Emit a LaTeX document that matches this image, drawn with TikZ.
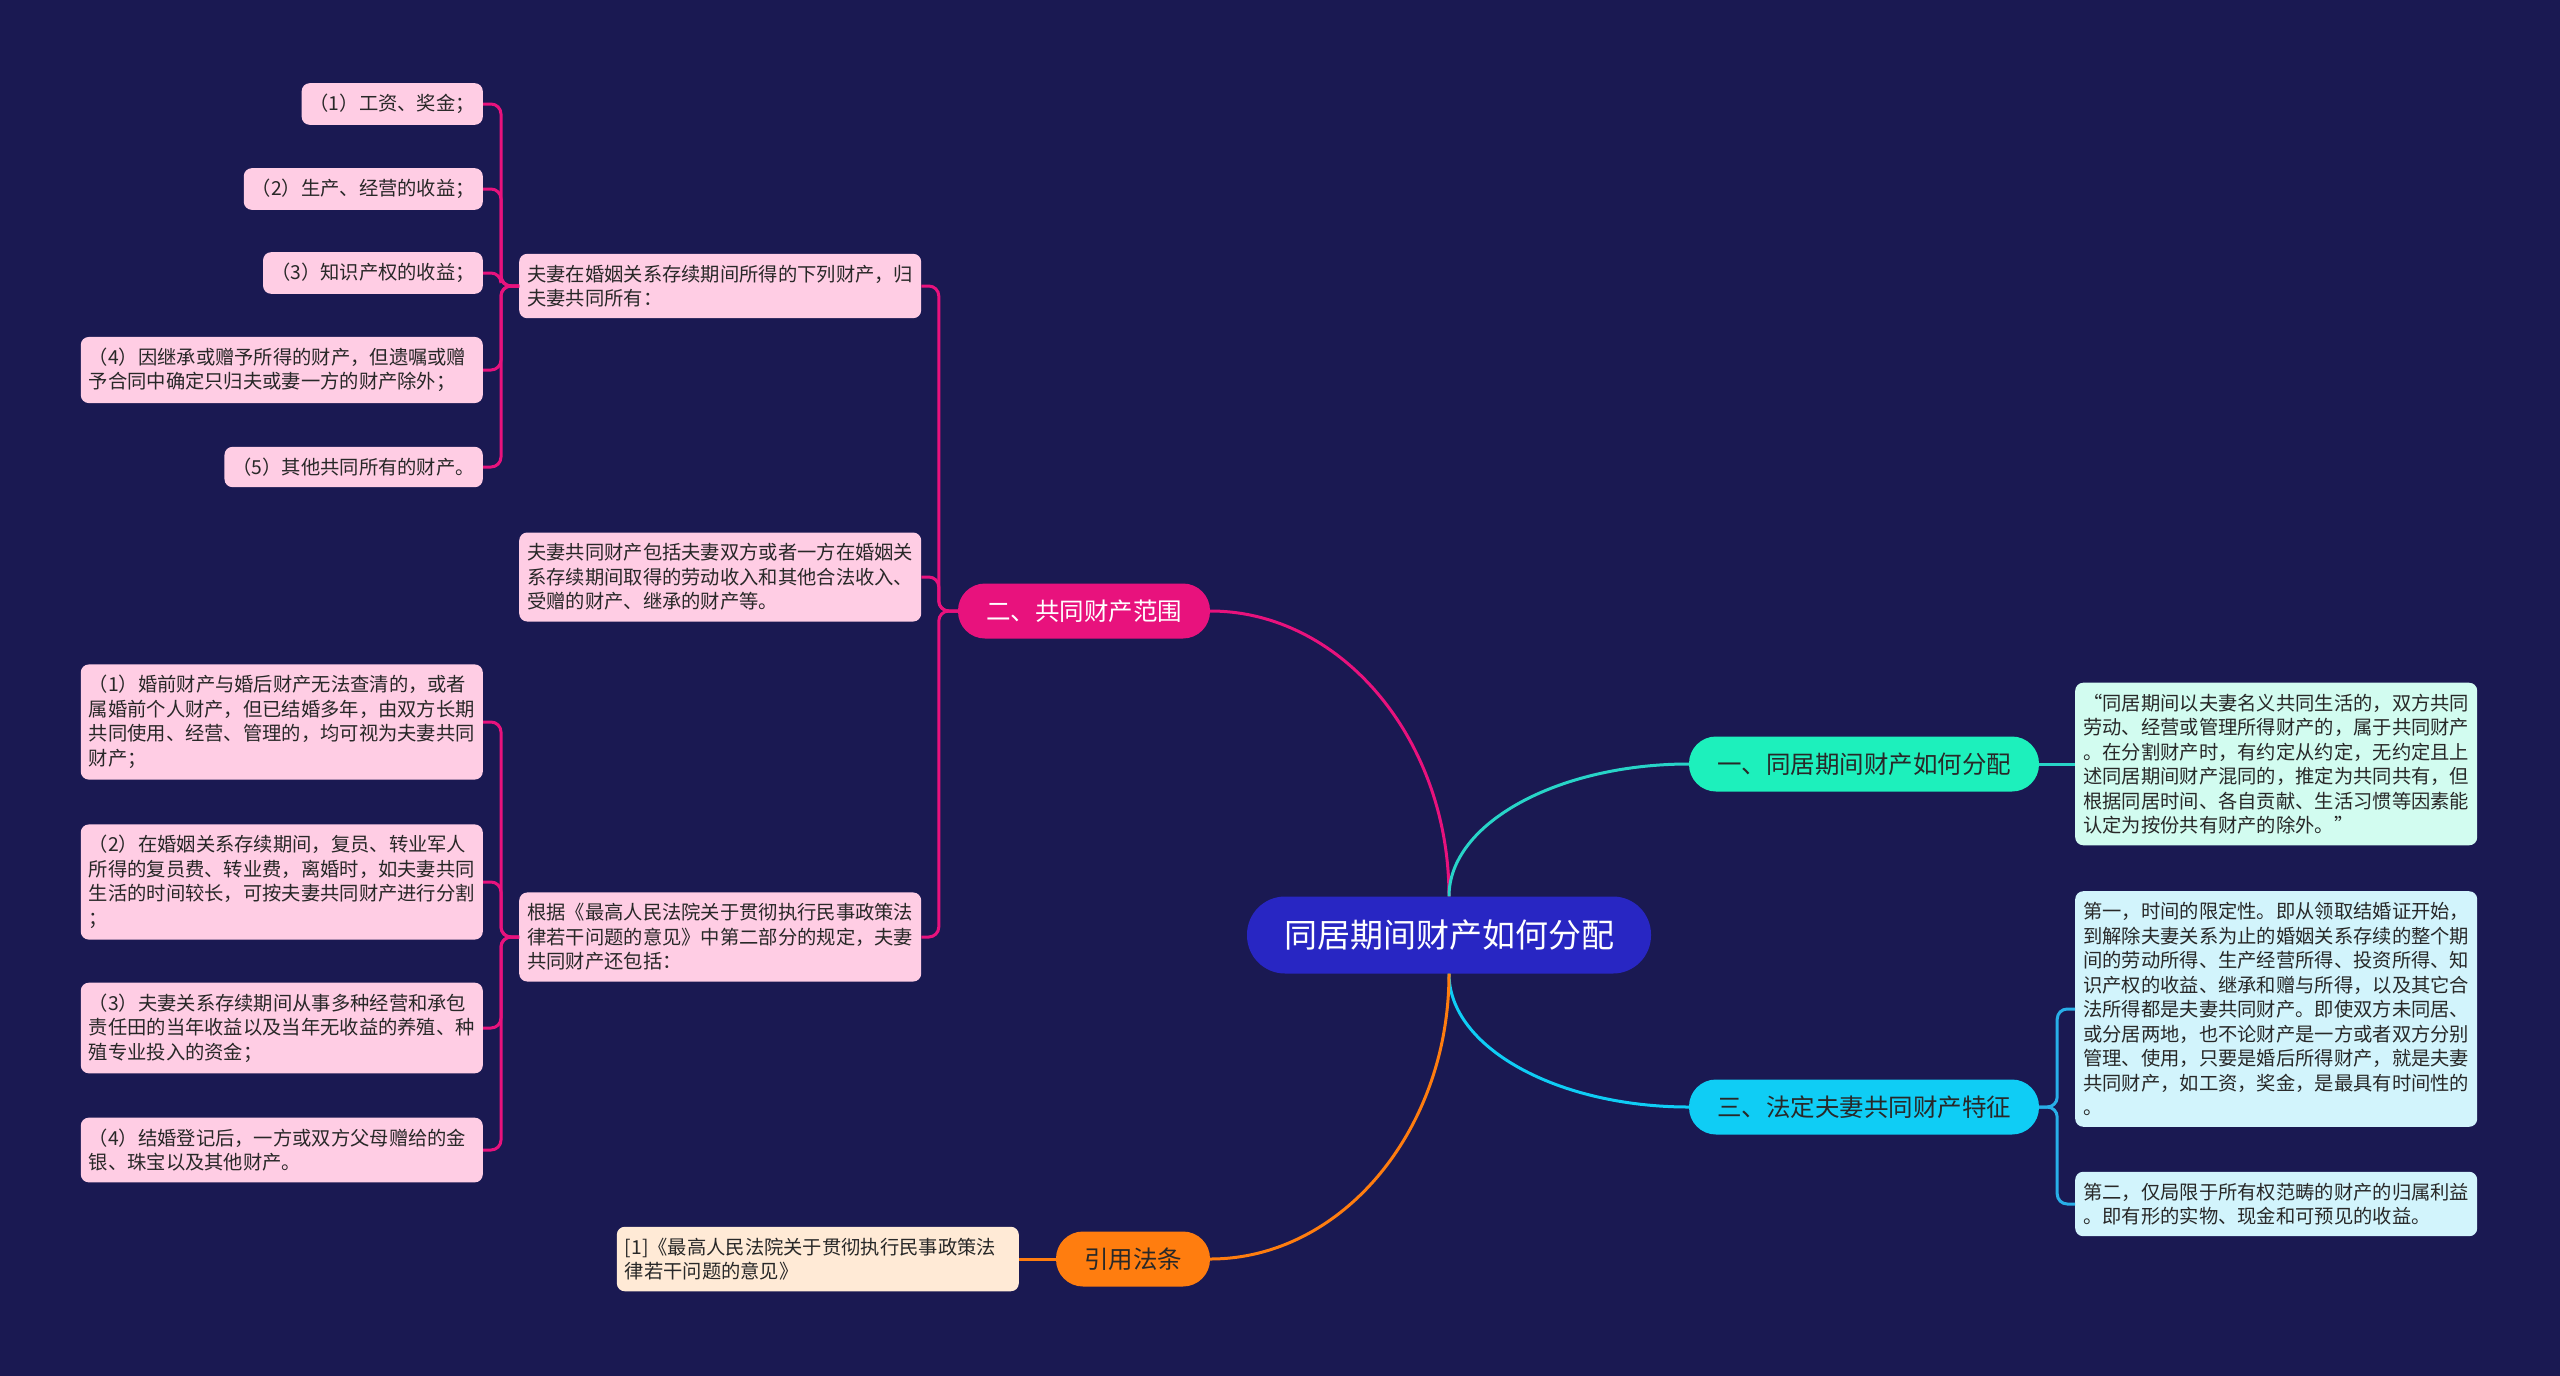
\documentclass[tikz,border=0pt]{standalone}
\usepackage{fontspec}
\setmainfont{Noto Sans CJK SC}
\definecolor{bg}{RGB}{26,25,82}
\definecolor{rootc}{RGB}{40,38,195}
\definecolor{pk}{RGB}{232,18,125}
\definecolor{mint}{RGB}{29,240,188}
\definecolor{mintln}{RGB}{40,212,200}
\definecolor{cyn}{RGB}{15,205,245}
\definecolor{cynln}{RGB}{40,175,232}
\definecolor{org}{RGB}{255,125,15}
\definecolor{pkleaf}{RGB}{255,205,228}
\definecolor{orleaf}{RGB}{255,234,214}
\definecolor{mtleaf}{RGB}{210,252,240}
\definecolor{cyleaf}{RGB}{210,244,252}
\definecolor{txt}{RGB}{40,40,40}

\begin{document}
\begin{tikzpicture}[x=1pt,y=-1pt,
        leaf/.style={rounded corners=8pt, inner xsep=8pt, inner ysep=11pt, align=left, text=txt,
            font=\fontsize{19.3}{24.5}\selectfont},
        wide/.style={leaf, text width=386pt},
        br/.style={rounded corners=27pt, minimum height=55pt, inner xsep=28pt, text=txt,
            font=\fontsize{24.5}{29}\selectfont},
        ln/.style={line width=3pt, rounded corners=10pt}]
        \fill[bg](0,0) rectangle (2560,1376);

        \node[fill=rootc, text=white, rounded corners=38pt, minimum width=404pt, minimum height=77pt,
            font=\fontsize{33}{40}\selectfont](rt) at (1449,935){同居期间财产如何分配};
        \node[br, fill=pk, text=white](b2) at (1084,611){二、共同财产范围};
        \node[br, fill=mint](b1) at (1864,764){一、同居期间财产如何分配};
        \node[br, fill=cyn](b3) at (1864,1107){三、法定夫妻共同财产特征};
        \node[br, fill=org](b4) at (1133,1259){引用法条};

        \node[wide, fill=pkleaf, anchor=west](sa) at (519,286){夫妻在婚姻关系存续期间所得的下列财产，归\\夫妻共同所有：};
        \node[wide, fill=pkleaf, anchor=west](sb) at (519,577){夫妻共同财产包括夫妻双方或者一方在婚姻关\\系存续期间取得的劳动收入和其他合法收入、\\受赠的财产、继承的财产等。};
        \node[wide, fill=pkleaf, anchor=west](sc) at (519,937){根据《最高人民法院关于贯彻执行民事政策法\\律若干问题的意见》中第二部分的规定，夫妻\\共同财产还包括：};

        \node[leaf, fill=pkleaf, anchor=east](a1) at (483,104){（1）工资、奖金；};
        \node[leaf, fill=pkleaf, anchor=east](a2) at (483,189){（2）生产、经营的收益；};
        \node[leaf, fill=pkleaf, anchor=east](a3) at (483,273){（3）知识产权的收益；};
        \node[wide, fill=pkleaf, anchor=east](a4) at (483,370){（4）因继承或赠予所得的财产，但遗嘱或赠\\予合同中确定只归夫或妻一方的财产除外；};
        \node[leaf, fill=pkleaf, anchor=east](a5) at (483,467){（5）其他共同所有的财产。};

        \node[wide, fill=pkleaf, anchor=east](c1) at (483,722){（1）婚前财产与婚后财产无法查清的，或者\\属婚前个人财产，但已结婚多年，由双方长期\\共同使用、经营、管理的，均可视为夫妻共同\\财产；};
        \node[wide, fill=pkleaf, anchor=east](c2) at (483,882){（2）在婚姻关系存续期间，复员、转业军人\\所得的复员费、转业费，离婚时，如夫妻共同\\生活的时间较长，可按夫妻共同财产进行分割\\；};
        \node[wide, fill=pkleaf, anchor=east](c3) at (483,1028){（3）夫妻关系存续期间从事多种经营和承包\\责任田的当年收益以及当年无收益的养殖、种\\殖专业投入的资金；};
        \node[wide, fill=pkleaf, anchor=east](c4) at (483,1150){（4）结婚登记后，一方或双方父母赠给的金\\银、珠宝以及其他财产。};

        \node[wide, fill=orleaf, anchor=east](rf) at (1019,1259){[1]《最高人民法院关于贯彻执行民事政策法\\律若干问题的意见》};

        \node[wide, fill=mtleaf, anchor=west](r1) at (2075,764){“同居期间以夫妻名义共同生活的，双方共同\\劳动、经营或管理所得财产的，属于共同财产\\。在分割财产时，有约定从约定，无约定且上\\述同居期间财产混同的，推定为共同共有，但\\根据同居时间、各自贡献、生活习惯等因素能\\认定为按份共有财产的除外。”};
        \node[wide, fill=cyleaf, anchor=west](r2) at (2075,1009){第一，时间的限定性。即从领取结婚证开始，\\到解除夫妻关系为止的婚姻关系存续的整个期\\间的劳动所得、生产经营所得、投资所得、知\\识产权的收益、继承和赠与所得，以及其它合\\法所得都是夫妻共同财产。即使双方未同居、\\或分居两地，也不论财产是一方或者双方分别\\管理、使用，只要是婚后所得财产，就是夫妻\\共同财产，如工资，奖金，是最具有时间性的\\。};
        \node[wide, fill=cyleaf, anchor=west](r3) at (2075,1204){第二，仅局限于所有权范畴的财产的归属利益\\。即有形的实物、现金和可预见的收益。};

        \draw[ln, pk](rt.north) .. controls +(0,-157) and +(131,0) .. (b2.east);
        \draw[ln, mintln](rt.north) .. controls +(0,-73) and +(-131,0) .. (b1.west);
        \draw[ln, cyn](rt.south) .. controls +(0,74) and +(-131,0) .. (b3.west);
        \draw[ln, org](rt.south) .. controls +(0,157) and +(131,0) .. (b4.east);

        \foreach \c in {sa,sb,sc} \draw[ln, pk](b2.west) -- ++(-19,0) |- (\c.east);
        \foreach \c in {a1,a2,a3,a4,a5} \draw[ln, pk](sa.west) -- ++(-18,0) |- (\c.east);
        \foreach \c in {c1,c2,c3,c4} \draw[ln, pk](sc.west) -- ++(-18,0) |- (\c.east);
        \foreach \c in {r2,r3} \draw[ln, cynln](b3.east) -- ++(18,0) |- (\c.west);
        \draw[ln, mintln](b1.east) -- (r1.west);
        \draw[ln, org](b4.west) -- (rf.east);
    \end{tikzpicture}
\end{document}
